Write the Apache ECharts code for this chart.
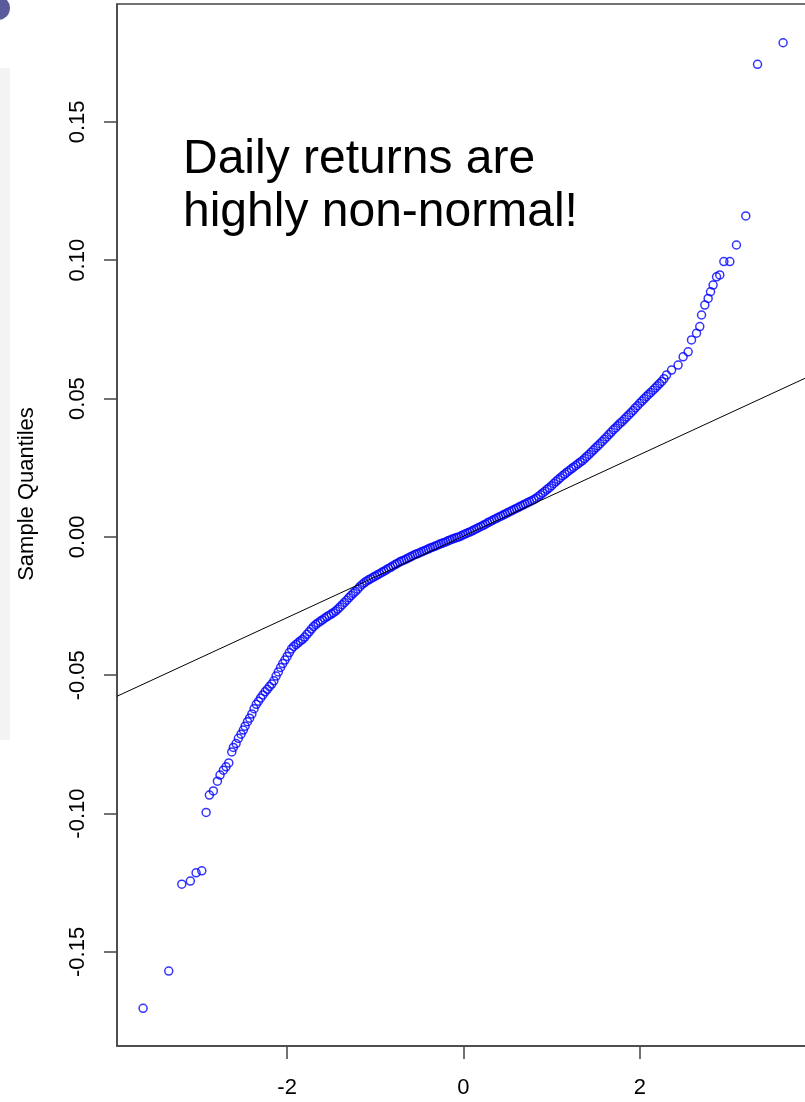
<!DOCTYPE html>
<html>
<head>
<meta charset="utf-8">
<script src="https://cdn.jsdelivr.net/npm/echarts@6/dist/echarts.min.js"></script>
<style>
html,body{margin:0;padding:0;background:#fff;}
#c{width:805px;height:1102px;}
</style>
</head>
<body>
<div id="c"></div>
<script>
// Lower tail: theoretical quantiles and sample quantiles
var lowerTailX = [-3.634,-3.343,-3.195,-3.098,-3.033,-2.968,-2.919,-2.882,-2.837,-2.791,-2.761,-2.723,-2.693,-2.662,-2.628,-2.610,-2.579,-2.553,-2.523,-2.497,-2.477];
var lowerTailY = [-0.1704,-0.1569,-0.1255,-0.1244,-0.1214,-0.1207,-0.0996,-0.0933,-0.0918,-0.0883,-0.0861,-0.0843,-0.0831,-0.0817,-0.0777,-0.0761,-0.0747,-0.0728,-0.0713,-0.0698,-0.0684];

// Dense body of the plot, read along the band
var bodyX = [
-2.450,-2.425,-2.400,-2.375,-2.350,-2.325,-2.300,-2.275,-2.250,-2.225,-2.200,-2.175,-2.150,-2.125,-2.100,-2.075,-2.050,-2.025,-2.000,-1.975,
-1.950,-1.925,-1.900,-1.875,-1.850,-1.825,-1.800,-1.775,-1.750,-1.725,-1.700,-1.675,-1.650,-1.625,-1.600,-1.575,-1.550,-1.525,-1.500,-1.475,
-1.450,-1.425,-1.400,-1.375,-1.350,-1.325,-1.300,-1.275,-1.250,-1.225,-1.200,-1.175,-1.150,-1.125,-1.100,-1.075,-1.050,-1.025,-1.000,-0.975,
-0.950,-0.925,-0.900,-0.875,-0.850,-0.825,-0.800,-0.775,-0.750,-0.725,-0.700,-0.675,-0.650,-0.625,-0.600,-0.575,-0.550,-0.525,-0.500,-0.475,
-0.450,-0.425,-0.400,-0.375,-0.350,-0.325,-0.300,-0.275,-0.250,-0.225,-0.200,-0.175,-0.150,-0.125,-0.100,-0.075,-0.050,-0.025,0.000,0.025,
0.050,0.075,0.100,0.125,0.150,0.175,0.200,0.225,0.250,0.275,0.300,0.325,0.350,0.375,0.400,0.425,0.450,0.475,0.500,0.525,
0.550,0.575,0.600,0.625,0.650,0.675,0.700,0.725,0.750,0.775,0.800,0.825,0.850,0.875,0.900,0.925,0.950,0.975,1.000,1.025,
1.050,1.075,1.100,1.125,1.150,1.175,1.200,1.225,1.250,1.275,1.300,1.325,1.350,1.375,1.400,1.425,1.450,1.475,1.500,1.525,
1.550,1.575,1.600,1.625,1.650,1.675,1.700,1.725,1.750,1.775,1.800,1.825,1.850,1.875,1.900,1.925,1.950,1.975,2.000,2.025,
2.050,2.075,2.100,2.125,2.150,2.175,2.200,2.225,2.250,2.275
];
var bodyY = [
-0.0668,-0.0655,-0.0640,-0.0621,-0.0605,-0.0594,-0.0582,-0.0571,-0.0560,-0.0551,-0.0541,-0.0532,-0.0520,-0.0503,-0.0488,-0.0472,-0.0458,-0.0445,-0.0432,-0.0418,
-0.0405,-0.0396,-0.0389,-0.0383,-0.0376,-0.0370,-0.0362,-0.0352,-0.0343,-0.0333,-0.0324,-0.0317,-0.0311,-0.0305,-0.0300,-0.0294,-0.0289,-0.0284,-0.0279,-0.0274,
-0.0268,-0.0261,-0.0253,-0.0245,-0.0237,-0.0229,-0.0220,-0.0212,-0.0204,-0.0197,-0.0189,-0.0180,-0.0172,-0.0166,-0.0160,-0.0155,-0.0151,-0.0146,-0.0142,-0.0137,
-0.0133,-0.0128,-0.0124,-0.0119,-0.0114,-0.0110,-0.0105,-0.0100,-0.0096,-0.0091,-0.0087,-0.0084,-0.0080,-0.0076,-0.0072,-0.0068,-0.0064,-0.0061,-0.0058,-0.0054,
-0.0051,-0.0047,-0.0044,-0.0040,-0.0037,-0.0034,-0.0031,-0.0027,-0.0024,-0.0021,-0.0018,-0.0014,-0.0011,-0.0008,-0.0005,-0.0002,0.0000,0.0004,0.0008,0.0011,
0.0015,0.0018,0.0022,0.0026,0.0030,0.0034,0.0038,0.0042,0.0046,0.0051,0.0055,0.0059,0.0063,0.0067,0.0071,0.0075,0.0079,0.0083,0.0087,0.0091,
0.0095,0.0099,0.0103,0.0107,0.0111,0.0115,0.0119,0.0123,0.0127,0.0131,0.0135,0.0140,0.0146,0.0152,0.0159,0.0165,0.0172,0.0178,0.0185,0.0193,
0.0200,0.0207,0.0214,0.0221,0.0227,0.0234,0.0240,0.0246,0.0252,0.0258,0.0264,0.0270,0.0276,0.0283,0.0291,0.0298,0.0306,0.0314,0.0322,0.0329,
0.0337,0.0345,0.0353,0.0361,0.0370,0.0378,0.0387,0.0394,0.0402,0.0410,0.0417,0.0425,0.0433,0.0441,0.0449,0.0457,0.0466,0.0474,0.0483,0.0491,
0.0499,0.0507,0.0515,0.0522,0.0530,0.0538,0.0546,0.0554,0.0562,0.0572
];

// Upper tail
var upperTailX = [2.304,2.361,2.435,2.492,2.549,2.587,2.644,2.681,2.701,2.738,2.776,2.803,2.832,2.871,2.908,2.954,3.022,3.097,3.203,3.336,3.626];
var upperTailY = [0.0585,0.0603,0.0621,0.0651,0.0669,0.0712,0.0736,0.0760,0.0802,0.0838,0.0862,0.0886,0.0910,0.0940,0.0947,0.0995,0.0995,0.1055,0.1160,0.1708,0.1786];

// Reference (qqline) end points
var refLineX = [-3.93, 3.92];
var refLineY = [-0.0576, 0.0580];
// Axis ranges and ticks
var xRange = [-3.93, 3.92];
var yRange = [-0.184, 0.1926];
var xTicks = [-2, 0, 2];
var yTicks = [-0.15, -0.10, -0.05, 0.00, 0.05, 0.10, 0.15];
var yLabelText = "Sample Quantiles";
var annotation = "Daily returns are\nhighly non-normal!";

var theoreticalQ = lowerTailX.concat(bodyX, upperTailX);
var sampleQ = lowerTailY.concat(bodyY, upperTailY);
var points = theoreticalQ.map(function(x, i){ return [x, sampleQ[i]]; });
var linePts = refLineX.map(function(x, i){ return [x, refLineY[i]]; });

var chart = echarts.init(document.getElementById('c'), null, {renderer:'canvas'});
var font = 'Liberation Sans, Arial, sans-serif';
chart.setOption({
  animation: false,
  backgroundColor: '#fff',
  grid: {
    left: 117, top: 4, right: -4, bottom: 56,
    containLabel: false, outerBoundsMode: 'none',
    show: true, borderColor: '#444', borderWidth: 1.5, backgroundColor: 'transparent'
  },
  xAxis: {
    type: 'value', min: xRange[0], max: xRange[1],
    splitLine: {show: false},
    axisLine: {show: true, onZero: false, lineStyle: {color: '#444', width: 1.5}},
    axisTick: {show: true, customValues: xTicks, length: 13, lineStyle: {color: '#444', width: 1.5}},
    axisLabel: {show: true, customValues: xTicks, margin: 31, fontSize: 22, color: '#000', fontFamily: font,
      formatter: function(v){ return String(v); }}
  },
  yAxis: {
    type: 'value', min: yRange[0], max: yRange[1],
    splitLine: {show: false},
    axisLine: {show: true, onZero: false, lineStyle: {color: '#444', width: 1.5}},
    axisTick: {show: true, customValues: yTicks, length: 13, lineStyle: {color: '#444', width: 1.5}},
    axisLabel: {show: true, customValues: yTicks, rotate: 90, margin: 28, fontSize: 22, color: '#000', fontFamily: font,
      formatter: function(v){ return v.toFixed(2); }}
  },
  series: [
    {
      type: 'scatter', data: points, symbol: 'circle', symbolSize: 8,
      itemStyle: {color: 'rgba(0,0,0,0)', borderColor: '#0000ff', borderWidth: 1.5},
      emphasis: {disabled: true}, z: 2
    },
    {
      type: 'line', data: linePts, symbol: 'none', showSymbol: false,
      lineStyle: {color: '#000', width: 1}, emphasis: {disabled: true}, z: 3, clip: true
    }
  ],
  graphic: [
    {type: 'text', left: 183, top: 133, z: 10,
      style: {text: annotation, font: '48px ' + font, fill: '#000', lineHeight: 53}},
    {type: 'text', x: 27, y: 494, rotation: Math.PI/2, z: 10,
      style: {text: yLabelText, font: '22px ' + font, fill: '#000', align: 'center', verticalAlign: 'middle'}},
    {type: 'circle', shape: {cx: -2, cy: 8, r: 12}, style: {fill: '#5b5b9b'}, z: 10},
    {type: 'rect', shape: {x: 0, y: 68, width: 10, height: 672}, style: {fill: '#f3f3f3'}, z: 0}
  ]
});
</script>
</body>
</html>
